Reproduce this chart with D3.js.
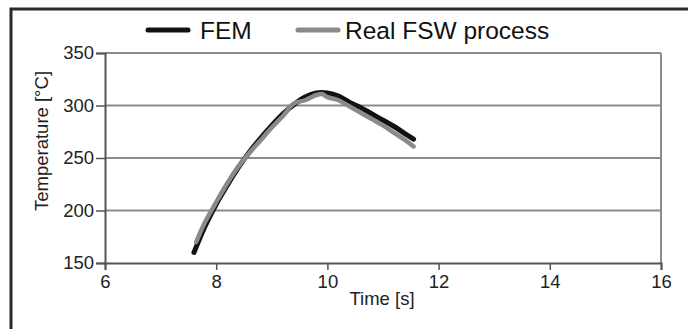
<!DOCTYPE html>
<html>
<head>
<meta charset="utf-8">
<script src="https://cdn.jsdelivr.net/npm/d3@7"></script>
<style>
  html, body { margin: 0; padding: 0; background: #fff; }
  svg { display: block; font-family: "Liberation Sans", Arial, Helvetica, sans-serif; }
</style>
</head>
<body>
<svg id="chart" width="688" height="329"></svg>
<script>
// ---- data ----
const xTicks = [6, 8, 10, 12, 14, 16];
const yTicks = [150, 200, 250, 300, 350];
const seriesNames = ["FEM", "Real FSW process"];
const femTime = [7.6, 7.8, 8.0, 8.2, 8.4, 8.6, 8.8, 9.0, 9.2, 9.4, 9.6, 9.8, 10.0, 10.2, 10.4, 10.6, 10.8, 11.0, 11.2, 11.4, 11.55];
const femTemp = [160, 185, 206, 224, 241, 256, 269, 281, 292, 301, 308, 312, 312, 309, 303, 298, 292, 286, 280, 273, 268];
const realTime = [7.64, 7.8, 8.0, 8.2, 8.4, 8.6, 8.8, 9.0, 9.2, 9.4, 9.6, 9.8, 9.9, 10.0, 10.2, 10.4, 10.6, 10.8, 11.0, 11.2, 11.4, 11.55];
const realTemp = [170, 189, 208, 226, 242, 255, 267, 279, 290, 302, 305, 310, 311, 308, 305, 299, 293, 287, 281, 274, 267, 261];
const xLabel = "Time [s]";
const yLabel = "Temperature [°C]";

// ---- layout ----
const svg = d3.select("#chart");
const mL = 105, mR = 661, mT = 53, mB = 263;
const x = d3.scaleLinear().domain([6, 16]).range([mL, mR]);
const y = d3.scaleLinear().domain([150, 350]).range([mB, mT]);
const fontSize = 18.5;

// outer frame (left + top only visible)
svg.append("path")
  .attr("d", "M11,340 L11,9 L700,9")
  .attr("fill", "none").attr("stroke", "#2a2a2a").attr("stroke-width", 3);

// gridlines
svg.append("g").selectAll("line").data(yTicks.slice(1)).join("line")
  .attr("x1", mL).attr("x2", mR)
  .attr("y1", d => y(d)).attr("y2", d => y(d))
  .attr("stroke", "#8c8c8c").attr("stroke-width", 2);
// right edge of plot
svg.append("line").attr("x1", mR).attr("x2", mR).attr("y1", mT).attr("y2", mB)
  .attr("stroke", "#8c8c8c").attr("stroke-width", 2);

// axes
const xAxis = d3.axisBottom(x).tickValues(xTicks).tickSize(7).tickPadding(5).tickFormat(d3.format("d"));
const yAxis = d3.axisLeft(y).tickValues(yTicks).tickSize(9).tickPadding(2).tickFormat(d3.format("d"));
const gx = svg.append("g").attr("transform", `translate(0,${mB})`).call(xAxis);
const gy = svg.append("g").attr("transform", `translate(${mL},0)`).call(yAxis);
[gx, gy].forEach(g => {
  g.select(".domain").attr("stroke", "#555").attr("stroke-width", 2);
  g.selectAll(".tick line").attr("stroke", "#555").attr("stroke-width", 1.5);
  g.selectAll(".tick text").attr("fill", "#222").attr("font-size", fontSize)
    .attr("font-family", "'Liberation Sans', Arial, sans-serif");
});

// axis titles
svg.append("text").attr("x", 382).attr("y", 305).attr("text-anchor", "middle")
  .attr("font-size", fontSize).attr("fill", "#222").text(xLabel);
svg.append("text").attr("transform", "translate(48,141) rotate(-90)").attr("text-anchor", "middle")
  .attr("font-size", fontSize).attr("fill", "#222").text(yLabel);

// lines
const line = d3.line().x(d => x(d[0])).y(d => y(d[1])).curve(d3.curveCatmullRom.alpha(0.5));
const realData = realTime.map((t, i) => [t, realTemp[i]]);
const femData = femTime.map((t, i) => [t, femTemp[i]]);
svg.append("path").datum(femData).attr("d", line)
  .attr("fill", "none").attr("stroke", "#111").attr("stroke-width", 5).attr("stroke-linecap", "round");
svg.append("path").datum(realData).attr("d", line)
  .attr("fill", "none").attr("stroke", "#8a8a8a").attr("stroke-width", 4.5).attr("stroke-linecap", "round");

// legend
const legend = [
  { name: seriesNames[0], color: "#111", x0: 148, x1: 188, tx: 200 },
  { name: seriesNames[1], color: "#8a8a8a", x0: 298, x1: 338, tx: 345 }
];
const lg = svg.append("g");
legend.forEach(l => {
  lg.append("line").attr("x1", l.x0).attr("x2", l.x1).attr("y1", 30).attr("y2", 30)
    .attr("stroke", l.color).attr("stroke-width", 5).attr("stroke-linecap", "round");
  lg.append("text").attr("x", l.tx).attr("y", 38.5).attr("font-size", 24.5).attr("fill", "#111").text(l.name);
});
</script>
</body>
</html>
